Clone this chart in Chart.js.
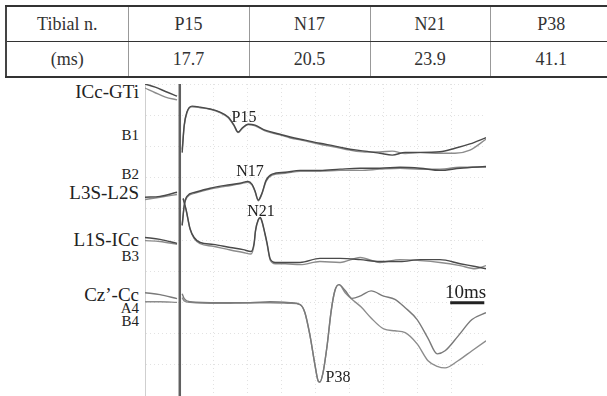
<!DOCTYPE html>
<html>
<head>
<script src="https://cdn.jsdelivr.net/npm/chart.js@4.4.1/dist/chart.umd.min.js"></script>
<title>Tibial nerve SEP</title>
<style>
    body { margin: 0; width: 607px; height: 396px; overflow: hidden; background: #fff; position: relative;
           font-family: "Liberation Serif", "DejaVu Serif", serif; color: #222; }
    #peaks { position: absolute; left: 5px; top: 5px; width: 606px; border-collapse: collapse; table-layout: fixed;
             border-top: 2px solid #333; border-bottom: 2px solid #333; border-left: 2px solid #444; }
    #peaks td { border-left: 1px solid #999; text-align: center; font-size: 18px; height: 34px; padding: 0; color: #333; }
    #peaks tr:first-child td { border-bottom: 1px solid #333; }
    #plot { position: absolute; left: 145px; top: 84px; width: 341px; height: 312px; }
    .lab { position: absolute; right: 468px; line-height: 1; white-space: nowrap; }
    .big { font-size: 19px; }
    .small { font-size: 15px; }
    .pk { position: absolute; width: 40px; text-align: center; font-size: 16px; line-height: 16px; }
</style>
</head>
<body>
<table id="peaks"></table>

<div class="lab big" style="top:82px">ICc-GTi</div>
<div class="lab small" style="top:128px">B1</div>
<div class="lab small" style="top:167px">B2</div>
<div class="lab big" style="top:183px">L3S-L2S</div>
<div class="lab big" style="top:230px">L1S-ICc</div>
<div class="lab small" style="top:249px">B3</div>
<div class="lab big" style="top:285px">Cz’-Cc</div>
<div class="lab small" style="top:301px">A4</div>
<div class="lab small" style="top:314px">B4</div>

<div id="plot"><canvas id="sep"></canvas></div>

<div class="pk" style="left:224px;top:109px">P15</div>
<div class="pk" style="left:230px;top:163px">N17</div>
<div class="pk" style="left:241px;top:203px">N21</div>
<div class="pk" style="left:318px;top:369px">P38</div>
<div class="lab big" style="left:445px;right:auto;top:282px">10ms</div>

<script>
    // peak latency table
    const peakNames = ['P15', 'N17', 'N21', 'P38'];
    const peakLatency = ['17.7', '20.5', '23.9', '41.1'];

    // time in ms (stimulus at 0), amplitude in grid divisions; null = break at the stimulus artifact
    const ch1Time = [-10, -7, -4, -0.6, 0.3, 0.9, 1.5, 2.3, 3.8, 6.2, 9.1, 12.0, 14.4, 16.1, 17.3, 18.5, 20.2, 22.3, 25.2, 29.6, 32.6, 36.9, 41.3, 45.7, 50.1, 54.5, 58.9, 62.5, 66.3, 70.7, 76.5, 80.9, 85.3, 90];
    const ch1A = [10.0, 9.9, 9.76, 9.61, null, 7.8, 8.68, 9.10, 9.29, 9.26, 9.20, 9.10, 8.94, 8.68, 8.46, 8.59, 8.71, 8.68, 8.52, 8.39, 8.30, 8.20, 8.10, 8.01, 7.91, 7.85, 7.78, 7.72, 7.81, 7.81, 7.83, 7.94, 8.08, 8.28];
    const ch1B = [9.87, 9.72, 9.58, 9.49, null, 7.9, 8.65, 9.08, 9.27, 9.24, 9.19, 9.08, 8.92, 8.66, 8.44, 8.57, 8.70, 8.66, 8.50, 8.37, 8.27, 8.18, 8.07, 7.98, 7.88, 7.82, 7.82, 7.85, 7.77, 7.80, 7.78, 7.78, 7.88, 8.23];

    const ch2Time = [-10, -5.6, -0.6, 0.3, 0.9, 1.5, 2.3, 4.7, 9.1, 13.5, 17.9, 20.2, 21.4, 22.3, 23.2, 24.3, 25.5, 27.3, 31.1, 35.5, 41.3, 47.2, 53.1, 58.9, 64.8, 70.7, 76.5, 82.4, 90];
    const ch2A = [6.37, 6.40, 6.53, null, 5.47, 6.11, 6.40, 6.53, 6.66, 6.75, 6.82, 6.88, 6.78, 6.56, 6.28, 6.50, 6.91, 7.11, 7.17, 7.23, 7.23, 7.27, 7.30, 7.30, 7.33, 7.30, 7.23, 7.30, 7.36];
    const ch2B = [6.30, 6.37, 6.46, null, 5.47, 6.09, 6.37, 6.50, 6.63, 6.72, 6.80, 6.85, 6.76, 6.54, 6.26, 6.48, 6.88, 7.08, 7.14, 7.20, 7.20, 7.23, 7.23, 7.27, 7.30, 7.27, 7.27, 7.33, 7.33];

    const ch3Time = [-10, -5.6, -0.6, 0.3, 1.2, 2.1, 3.2, 4.4, 6.2, 10.0, 15.0, 18.8, 21.1, 22.0, 22.4, 23.2, 23.8, 24.3, 25.2, 25.8, 26.7, 28.2, 31.1, 35.5, 41.3, 47.2, 53.1, 58.9, 64.8, 70.7, 76.5, 82.4, 86.8, 90];
    const ch3A = [5.08, 5.02, 4.89, null, 6.33, 5.95, 5.37, 5.08, 4.92, 4.86, 4.76, 4.69, 4.63, 4.90, 5.30, 5.65, 5.72, 5.60, 5.20, 4.90, 4.40, 4.28, 4.28, 4.28, 4.41, 4.41, 4.37, 4.31, 4.31, 4.37, 4.37, 4.24, 4.15, 4.08];
    const ch3B = [4.98, 4.95, 4.86, null, 6.33, 5.93, 5.35, 5.05, 4.88, 4.80, 4.68, 4.60, 4.55, 4.86, 5.28, 5.63, 5.70, 5.58, 5.17, 4.86, 4.36, 4.24, 4.24, 4.21, 4.31, 4.28, 4.44, 4.28, 4.37, 4.34, 4.28, 4.18, 4.08, 4.18];

    const ch4Time = [-10, -5.6, -0.6, 0.3, 0.9, 1.5, 3.2, 12.0, 20.8, 26.7, 32.6, 35.5, 36.9, 38.4, 39.9, 40.8, 41.3, 42.2, 43.4, 44.6, 45.7, 46.9, 48.7, 50.7, 53.4, 56.3, 60.0, 63.3, 66.3, 69.8, 73.0, 75.7, 78.0, 81.8, 85.9, 90];
    const ch4A = [3.31, 3.25, 3.12, null, 3.28, 3.12, 3.02, 2.99, 2.99, 3.02, 2.99, 2.93, 2.67, 1.93, 0.96, 0.48, 0.45, 0.74, 1.61, 2.73, 3.38, 3.57, 3.38, 3.13, 3.22, 3.37, 3.20, 3.10, 2.83, 2.45, 1.85, 1.35, 1.45, 1.92, 2.45, 2.67];
    const ch4B = [3.02, 3.02, 3.00, null, 3.15, 3.05, 3.00, 2.97, 2.99, 2.99, 2.97, 2.93, 2.67, 1.93, 0.96, 0.48, 0.45, 0.74, 1.61, 2.73, 3.38, 3.57, 3.31, 3.10, 2.85, 2.50, 2.15, 2.09, 2.03, 1.67, 1.13, 0.95, 0.90, 1.13, 1.45, 1.77];

    // stimulus artifact and the 10 ms calibration bar
    const stimTime = [0.2, 0.2];
    const stimLevel = [0, 10];
    const barTime = [79.5, 89.5];
    const barLevel = [2.99, 2.99];

    const table = document.getElementById('peaks');
    table.innerHTML =
        '<colgroup><col style="width:122px"><col style="width:121px"><col style="width:121px"><col style="width:120px"><col style="width:122px"></colgroup>' +
        '<tr><td>Tibial n.</td>' + peakNames.map(n => '<td>' + n + '</td>').join('') + '</tr>' +
        '<tr><td>(ms)</td>' + peakLatency.map(v => '<td>' + v + '</td>').join('') + '</tr>';

    const pts = (t, v) => t.map((x, i) => ({ x: x, y: v[i] }));
    const trace = (t, v, color) => ({
        data: pts(t, v), borderColor: color, borderWidth: 1.4,
        pointRadius: 0, cubicInterpolationMode: 'monotone', spanGaps: false
    });

    new Chart(document.getElementById('sep').getContext('2d'), {
        type: 'line',
        data: {
            datasets: [
                trace(ch1Time, ch1A, '#4a4a4a'),
                trace(ch1Time, ch1B, '#8c8c8c'),
                trace(ch2Time, ch2A, '#4a4a4a'),
                trace(ch2Time, ch2B, '#8c8c8c'),
                trace(ch3Time, ch3A, '#4a4a4a'),
                trace(ch3Time, ch3B, '#8c8c8c'),
                trace(ch4Time, ch4A, '#7a7a7a'),
                trace(ch4Time, ch4B, '#8c8c8c'),
                { data: pts(stimTime, stimLevel), borderColor: '#606060', borderWidth: 2.5, pointRadius: 0 },
                { data: pts(barTime, barLevel), borderColor: '#222', borderWidth: 3, pointRadius: 0 }
            ]
        },
        options: {
            responsive: true,
            maintainAspectRatio: false,
            animation: false,
            layout: { padding: 0 },
            plugins: { legend: { display: false }, tooltip: { enabled: false } },
            scales: {
                x: {
                    type: 'linear', min: -10, max: 90,
                    ticks: { display: false, stepSize: 10 },
                    grid: { color: '#e2e2e2', drawTicks: false },
                    border: { display: false, dash: [1, 3] }
                },
                y: {
                    min: 0, max: 10,
                    ticks: { display: false, stepSize: 1 },
                    grid: { color: '#e2e2e2', drawTicks: false },
                    border: { display: true, color: '#cfcfcf', width: 2, dash: [1, 3] }
                }
            }
        }
    });
</script>
</body>
</html>
